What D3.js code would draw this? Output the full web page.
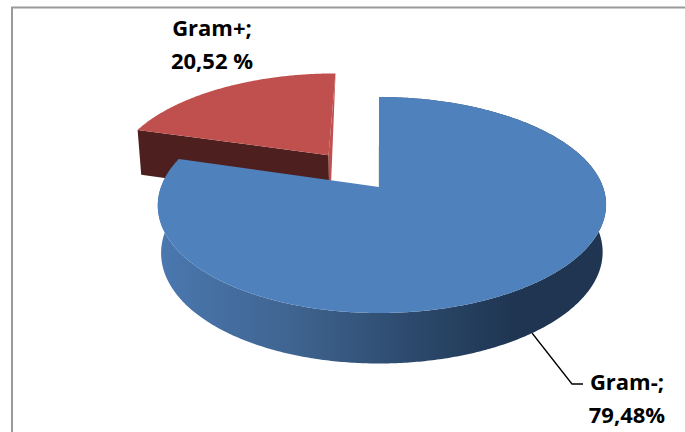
<!DOCTYPE html>
<html><head><meta charset="utf-8">
<script src="https://cdn.jsdelivr.net/npm/d3@7/dist/d3.min.js"></script>
<style>html,body{margin:0;padding:0;background:#fff}svg{display:block}</style>
</head><body><svg id="c" width="685" height="432"></svg>
<script>
const categories = ["Gram-", "Gram+"];
const values = [79.48, 20.52];
const labelLines = [["Gram-;", "79,48%"], ["Gram+;", "20,52 %"]];
const colorsTop = ["#4f81bd", "#c0504d"];
const explode = [0, 0.40];

const svg = d3.select("#c");
const W = 685, H = 432;
const k = 1 / 6;
const sx = d3.scaleLinear().domain([-1, 1]).range([379 - 221, 379 + 221]);
const sy = d3.scaleLinear().domain([-1, 1]).range([187 - 105, 187 + 105]);
const cx0 = sx(0), cy0 = sy(0);
function project(u, v, bottom, bend) {
  const w = 1 - k * v;
  const X = (sx(u) - cx0) / w + (bend || 0) * u * u, Y = (sy(v) - cy0) / w;
  if (!bottom) return [cx0 + X, cy0 + Y];
  return [cx0 + X * 0.985, cy0 + Y + 47 + 3.5 * v];
}
const pie = d3.pie().value(d => d).sort(null);
const arcs = pie(values);

const defs = svg.append("defs");
const grad = defs.append("linearGradient").attr("id", "blueSide")
  .attr("gradientUnits", "userSpaceOnUse").attr("x1", 158).attr("x2", 606).attr("y1", 0).attr("y2", 0);
[[0, "#4a78b0"], [0.3, "#3f6490"], [0.6, "#2a4668"], [0.8, "#1f3552"], [1, "#1f3552"]]
  .forEach(s => grad.append("stop").attr("offset", s[0]).attr("stop-color", s[1]));

const line = d3.line();
function ring(a0, a1, ox, oy, bottom, bend) {
  const n = Math.max(2, Math.ceil((a1 - a0) / 0.01));
  return d3.range(n + 1).map(i => {
    const a = a0 + (a1 - a0) * i / n;
    return project(ox + Math.sin(a), oy - Math.cos(a), bottom, bend);
  });
}
svg.append("rect").attr("x", 12).attr("y", 7.5).attr("width", W + 20).attr("height", H + 20)
  .attr("fill", "#fff").attr("stroke", "#9a9a9a").attr("stroke-width", 2);

{
  const d = arcs[1], mid = (d.startAngle + d.endAngle) / 2, e = explode[1];
  const ox = Math.sin(mid) * e, oy = -Math.cos(mid) * e;
  const apexT = project(ox, oy, false), apexB = project(ox, oy, true);
  const outerT = ring(d.startAngle, d.endAngle, ox, oy, false);
  const outerB = ring(d.startAngle, d.endAngle, ox, oy, true);
  svg.append("path").attr("fill", "#4e1f1f")
    .attr("d", line([outerT[0], apexT, apexB, outerB[0]]) + "Z");
  svg.append("path").attr("fill", colorsTop[1]).attr("d", line([apexT, outerT[outerT.length - 1], [outerT[outerT.length - 1][0], outerT[outerT.length-1][1]+2], [apexB[0] + 1, apexB[1]], apexB]) + "Z");
  svg.append("path").attr("fill", colorsTop[1]).attr("d", line([apexT, ...outerT]) + "Z");
}
{
  const d = arcs[0], bend = 3;
  const outerT = ring(d.startAngle, d.endAngle, 0, 0, false, bend);
  const outerB = ring(d.startAngle, d.endAngle, 0, 0, true, bend);
  svg.append("path").attr("fill", "url(#blueSide)")
    .attr("d", line([...outerT, ...outerB.slice().reverse()]) + "Z");
  const apex = project(0, 0, false);
  const inner = project(Math.sin(d.startAngle) * 0.42, -Math.cos(d.startAngle) * 0.42, false);
  svg.append("line").attr("x1", apex[0] + 0.5).attr("y1", apex[1]).attr("x2", inner[0] + 0.5).attr("y2", inner[1])
    .attr("stroke", "#1f3552").attr("stroke-width", 1.2);
  svg.append("path").attr("fill", colorsTop[0]).attr("d", line([apex, ...outerT]) + "Z");
}
svg.append("path").attr("fill", "none").attr("stroke", "#000").attr("stroke-width", 1.3)
  .attr("d", line([[532, 333], [572, 384], [583, 384]]));

const font = "'Open Sans', sans-serif";
function label(lines, x, y) {
  lines.forEach((t, i) => svg.append("text").attr("x", x).attr("y", y + i * 33)
    .attr("text-anchor", "middle").attr("font-family", font).attr("font-weight", 700)
    .attr("font-size", 22).attr("fill", "#000").text(t));
}
label(labelLines[1], 212, 36);
label(labelLines[0], 627, 390);
</script></body></html>
